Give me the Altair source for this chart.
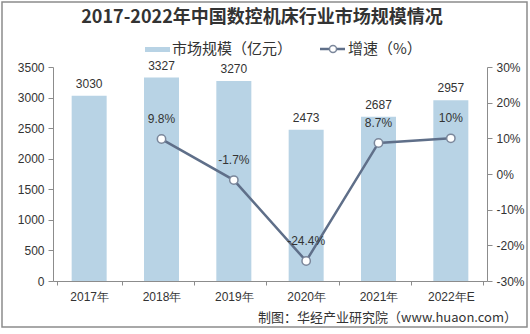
import altair as alt
import pandas as pd

years = ["2017年", "2018年", "2019年", "2020年", "2021年", "2022年E"]
market = [3030, 3327, 3270, 2473, 2687, 2957]
growth = [None, 9.8, -1.7, -24.4, 8.7, 10.0]
growth_labels = ["", "9.8%", "-1.7%", "-24.4%", "8.7%", "10%"]

df = pd.DataFrame({"year": years, "market": market, "growth": growth, "glabel": growth_labels})
gdf = df.dropna(subset=["growth"])

FONT = "Noto Sans CJK SC"
W, H = 434, 214
xenc = alt.X("year:N", sort=years, title=None,
             axis=alt.Axis(labelAngle=0, labelFontSize=12, labelColor="#333", domainColor="#8c8c8c",
                           tickColor="#8c8c8c", tickBand="extent", labelPadding=6, tickSize=4))

yl = alt.Y("market:Q", scale=alt.Scale(domain=[0, 3500]), title=None,
           axis=alt.Axis(values=list(range(0, 3501, 500)), format="d", grid=False, labelFontSize=12, labelColor="#333",
                         domainColor="#8c8c8c", tickColor="#8c8c8c", tickSize=5, labelPadding=4))
bars = alt.Chart(df).mark_bar(color="#b8d3e5", size=35).encode(x=xenc, y=yl)
bar_text = alt.Chart(df).mark_text(dy=-12, fontSize=12, color="#333", font="Liberation Sans").encode(
    x=xenc, y=yl, text="market:Q")

yg = alt.Y("growth:Q", scale=alt.Scale(domain=[-30, 30]), title=None,
           axis=alt.Axis(orient="right", values=list(range(-30, 31, 10)), labelExpr="datum.value + '%'",
                         grid=False, labelFontSize=12, labelColor="#333", domainColor="#8c8c8c",
                         tickColor="#8c8c8c", tickSize=5, labelPadding=4))
line = alt.Chart(gdf).mark_line(color="#5f6f89", strokeWidth=2.5).encode(x=xenc, y=yg)
pts = alt.Chart(gdf).mark_point(filled=True, fill="white", stroke="#7b879b", strokeWidth=1.5, size=70, opacity=1).encode(
    x=xenc, y=yg)
gtext = alt.Chart(gdf).mark_text(dy=-20, fontSize=12, color="#333", font="Liberation Sans").encode(
    x=xenc, y=yg, text="glabel:N")

one = pd.DataFrame({"a": [0]})
title = alt.Chart(one).mark_text(text="2017-2022年中国数控机床行业市场规模情况", fontSize=18, fontWeight="bold",
                                 font=FONT, color="#333").encode(x=alt.value(209), y=alt.value(-49))
leg_rect = alt.Chart(one).mark_rect(color="#b8d3e5").encode(
    x=alt.value(92), x2=alt.value(117), y=alt.value(-20), y2=alt.value(-15))
leg_t1 = alt.Chart(one).mark_text(text="市场规模（亿元）", fontSize=15, font=FONT, color="#333", align="left").encode(
    x=alt.value(119), y=alt.value(-18))
leg_line = alt.Chart(one).mark_rule(color="#5f6f89", strokeWidth=2.5).encode(
    x=alt.value(267), x2=alt.value(292), y=alt.value(-18))
leg_pt = alt.Chart(one).mark_point(filled=True, fill="white", stroke="#7b879b", strokeWidth=1.5, size=50, opacity=1).encode(
    x=alt.value(280), y=alt.value(-18))
leg_t2 = alt.Chart(one).mark_text(text="增速（%）", fontSize=15, font=FONT, color="#333", align="left").encode(
    x=alt.value(295), y=alt.value(-18))
src = alt.Chart(one).mark_text(text="制图：华经产业研究院（www.huaon.com）", fontSize=13, font=FONT, color="#333",
                               align="right").encode(x=alt.value(464), y=alt.value(251))
frame = alt.Chart(one).mark_rect(fill=None, stroke="#8c8c8c", strokeWidth=1.5, filled=False).encode(
    x=alt.value(-51), x2=alt.value(474), y=alt.value(-65), y2=alt.value(260))

left = alt.layer(bars, bar_text)
right = alt.layer(line, pts, gtext)
deco = alt.layer(title, leg_rect, leg_t1, leg_line, leg_pt, leg_t2, src, frame)
chart = alt.layer(left, right, deco).resolve_scale(y="independent").properties(
    width=W, height=H, autosize=alt.AutoSizeParams(type="none"),
    padding={"left": 53, "top": 67, "right": 43, "bottom": 53}, background="white"
).configure_view(stroke=None).configure_axis(labelFont="Liberation Sans")

chart.save("out.html", embed_options={"renderer": "svg", "actions": False})
